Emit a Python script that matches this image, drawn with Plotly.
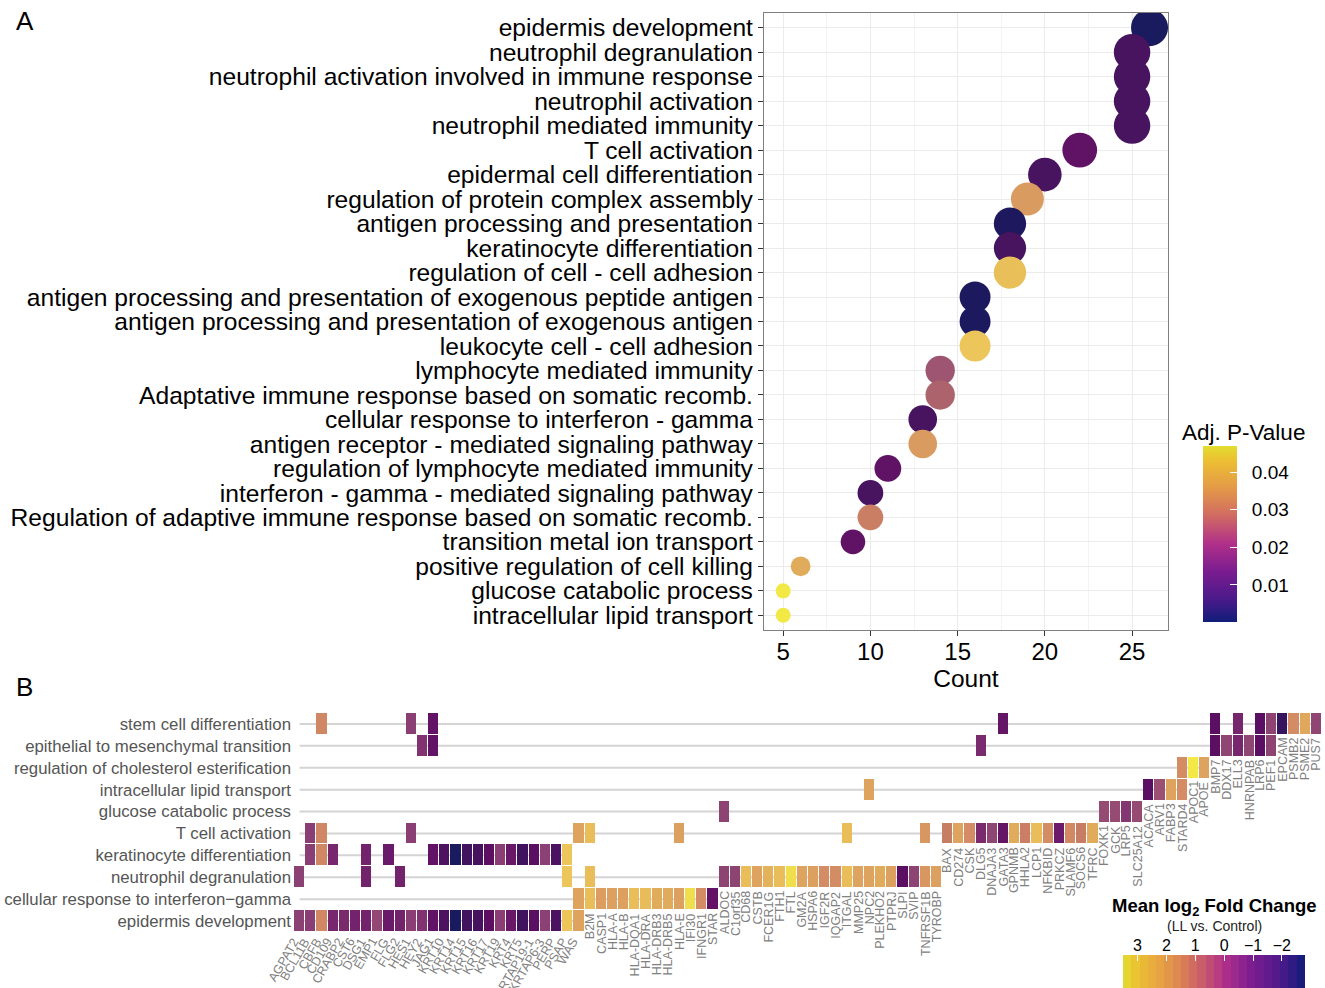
import numpy as np
import plotly.graph_objects as go

# ---------------- Panel A data ----------------
TERMS_A = [
    "epidermis development",
    "neutrophil degranulation",
    "neutrophil activation involved in immune response",
    "neutrophil activation",
    "neutrophil mediated immunity",
    "T cell activation",
    "epidermal cell differentiation",
    "regulation of protein complex assembly",
    "antigen processing and presentation",
    "keratinocyte differentiation",
    "regulation of cell - cell adhesion",
    "antigen processing and presentation of exogenous peptide antigen",
    "antigen processing and presentation of exogenous antigen",
    "leukocyte cell - cell adhesion",
    "lymphocyte mediated immunity",
    "Adaptative immune response based on somatic recomb.",
    "cellular response to interferon - gamma",
    "antigen receptor - mediated signaling pathway",
    "regulation of lymphocyte mediated immunity",
    "interferon - gamma - mediated signaling pathway",
    "Regulation of adaptive immune response based on somatic recomb.",
    "transition metal ion transport",
    "positive regulation of cell killing",
    "glucose catabolic process",
    "intracellular lipid transport",
]
COUNTS_A = [26, 25, 25, 25, 25, 22, 20, 19, 18, 18, 18, 16, 16, 16, 14, 14, 13, 13, 11, 10, 10, 9, 6, 5, 5]
PADJ_A = [0.0001, 0.009, 0.009, 0.009, 0.009, 0.0146, 0.009, 0.035, 0.001, 0.009, 0.042, 0.0008,
          0.0008, 0.0433, 0.024, 0.026, 0.009, 0.035, 0.0146, 0.009, 0.0305, 0.0146, 0.038, 0.047, 0.047]
PADJ_TICKS = [0.01, 0.02, 0.03, 0.04]
COUNT_TICKS = [5, 10, 15, 20, 25]

# ---------------- Panel B data ----------------
GENES = ["AGPAT2", "BCL11B", "CBFB", "CD109", "CRABP2", "CST6", "DSG1", "EMP1", "FLG", "FLG2",
         "HES1", "HEY2", "JAG1", "KRT10", "KRT14", "KRT15", "KRT16", "KRT17", "KRT19", "KRT4",
         "KRT5", "KRTAP19-1", "KRTAP6-3", "PERP", "PSAP", "WAS", "B2M", "CASP1", "HLA-A", "HLA-B",
         "HLA-DQA1", "HLA-DRA", "HLA-DRB3", "HLA-DRB5", "HLA-E", "IFI30", "IFNGR1", "STAR", "ALDOC", "C1orf35",
         "CD68", "CSTB", "FCER1G", "FTH1", "FTL", "GM2A", "HSPA6", "IGF2R", "IQGAP2", "ITGAL",
         "MMP25", "NPC2", "PLEKHO2", "PTPRJ", "SLPI", "SVIP", "TNFRSF1B", "TYROBP", "BAX", "CD274",
         "CSK", "DLG5", "DNAJA3", "GATA3", "GPNMB", "HHLA2", "LCP1", "NFKBID", "PRKCZ", "SLAMF6",
         "SOCS6", "TFRC", "FOXK1", "GCK", "LRP5", "SLC25A12", "ACACA", "ARV1", "FABP3", "STARD4",
         "APOC1", "APOE", "BMP7", "DDX17", "ELL3", "HNRNPAB", "LRP6", "PEF1", "EPCAM", "PSMB2",
         "PSME2", "PUS7"]
LOGFC = [0.0, -0.05, 1.5, -0.35, -0.3, -0.4, -0.4, 0.15, -0.6, -0.4,
         -0.05, -0.2, -0.8, -1.45, -2.8, -1.8, -1.65, -0.95, -0.05, -0.65,
         -1.85, -1.05, 0.0, -1.55, 3.0, 2.1, 2.8, 1.95, 2.0, 2.0,
         2.8, 2.75, 2.3, 2.3, 2.0, 3.35, 1.6, -0.8, 0.05, 0.05,
         2.8, 2.1, 2.5, 2.8, 3.35, 2.1, 2.0, 1.6, 1.6, 2.8,
         2.1, 2.1, 2.3, 2.0, -1.05, 0.05, 1.8, 2.0, 1.2, 2.1,
         1.6, -0.3, 0.1, -0.75, 2.3, 1.25, 2.8, 1.6, -0.55, 1.55,
         1.2, 2.3, 0.2, 0.2, -0.15, 0.2, -1.05, 0.3, 2.1, 1.6,
         3.5, 2.1, -1.05, 0.1, -0.35, 0.1, -1.05, 0.05, -2.1, 1.6,
         2.2, 0.1]

STEM_CELL = ["CBFB", "HES1", "JAG1", "GATA3", "BMP7", "ELL3", "LRP6", "PEF1", "EPCAM", "PSMB2", "PSME2", "PUS7"]
EMT = ["HEY2", "JAG1", "DLG5", "BMP7", "DDX17", "ELL3", "HNRNPAB", "LRP6", "PEF1"]
CHOL_ESTER = ["STARD4", "APOC1", "APOE"]
LIPID_TRANSPORT = ["NPC2", "ACACA", "ARV1", "FABP3", "STARD4"]
GLUCOSE = ["ALDOC", "FOXK1", "GCK", "LRP5", "SLC25A12"]
T_CELL = ["BCL11B", "CBFB", "HES1", "WAS", "B2M", "HLA-E", "ITGAL", "TNFRSF1B", "BAX", "CD274", "CSK",
          "DLG5", "DNAJA3", "GATA3", "GPNMB", "HHLA2", "LCP1", "NFKBID", "PRKCZ", "SLAMF6", "SOCS6", "TFRC"]
KERATINOCYTE = ["BCL11B", "CBFB", "CD109", "DSG1", "FLG", "JAG1", "KRT10", "KRT14", "KRT15", "KRT16",
                "KRT17", "KRT19", "KRT4", "KRT5", "KRTAP19-1", "KRTAP6-3", "PERP", "PSAP"]
NEUTROPHIL = ["AGPAT2", "DSG1", "FLG2", "PSAP", "B2M", "ALDOC", "C1orf35", "CD68", "CSTB", "FCER1G", "FTH1",
              "FTL", "GM2A", "HSPA6", "IGF2R", "IQGAP2", "ITGAL", "MMP25", "NPC2", "PLEKHO2", "PTPRJ",
              "SLPI", "SVIP", "TNFRSF1B", "TYROBP"]
IFN_GAMMA = ["WAS", "B2M", "CASP1", "HLA-A", "HLA-B", "HLA-DQA1", "HLA-DRA", "HLA-DRB3", "HLA-DRB5",
             "HLA-E", "IFI30", "IFNGR1", "STAR"]
EPIDERMIS = GENES[:26]

TERMS_B = ["stem cell differentiation", "epithelial to mesenchymal transition",
           "regulation of cholesterol esterification", "intracellular lipid transport",
           "glucose catabolic process", "T cell activation", "keratinocyte differentiation",
           "neutrophil degranulation", "cellular response to interferon\u2212gamma", "epidermis development"]
MEMBERS_B = [STEM_CELL, EMT, CHOL_ESTER, LIPID_TRANSPORT, GLUCOSE, T_CELL, KERATINOCYTE,
             NEUTROPHIL, IFN_GAMMA, EPIDERMIS]
FC_TICKS = [3, 2, 1, 0, -1, -2]
FC_TICKTEXT = ["3", "2", "1", "0", "\u22121", "\u22122"]

# ---------------- colour scales ----------------
MUTED = [(0.00, "#1a1a5e"), (0.05, "#241860"), (0.13, "#3c145e"), (0.21, "#4c1260"),
         (0.29, "#5c0e62"), (0.37, "#6e1e6a"), (0.44, "#8b4074"), (0.52, "#a05870"),
         (0.60, "#c07466"), (0.68, "#d08664"), (0.76, "#dca060"), (0.84, "#e4b25a"),
         (0.92, "#ecc65a"), (1.00, "#f2e846")]
SATURATED = [(0.00, "#0f1d78"), (0.127, "#4a1a8a"), (0.286, "#7a1c90"), (0.444, "#b0308a"),
             (0.603, "#d06a62"), (0.762, "#e49a48"), (0.921, "#ecc032"), (1.00, "#e2de30")]

FONT = "Liberation Sans, Arial, Helvetica, sans-serif"
W, H = 1325, 988


def px(xp):
    return xp / W


def py(yp):
    return 1 - yp / H


fig = go.Figure()

# ---------------- Panel A ----------------
cmin_a, cmax_a = min(PADJ_A), max(PADJ_A)
cmin_c, cmax_c = min(COUNTS_A), max(COUNTS_A)
sizes = [15 + 22 * np.sqrt((c - cmin_c) / (cmax_c - cmin_c)) for c in COUNTS_A]

fig.add_trace(go.Scatter(
    x=COUNTS_A, y=TERMS_A, mode="markers", xaxis="x", yaxis="y",
    marker=dict(size=sizes, sizemode="diameter", color=PADJ_A, colorscale=MUTED,
                cmin=cmin_a, cmax=cmax_a, line=dict(width=0), opacity=1, showscale=False),
    showlegend=False, hoverinfo="x+y",
))
# colour key for panel A
fig.add_trace(go.Scatter(
    x=COUNTS_A, y=TERMS_A, mode="markers", xaxis="x", yaxis="y",
    marker=dict(size=1, color=PADJ_A, colorscale=SATURATED, cmin=cmin_a, cmax=cmax_a, opacity=0,
                showscale=True,
                colorbar=dict(x=px(1203), xanchor="left", xpad=0, ypad=0,
                              y=py(534), yanchor="middle", len=176 / H, lenmode="fraction",
                              thickness=34, outlinewidth=0, tickvals=PADJ_TICKS,
                              ticktext=["\u00a0\u00a0" + f"{v:.2f}" for v in PADJ_TICKS],
                              ticks="inside", ticklen=7, tickcolor="white", tickwidth=1.2,
                              tickfont=dict(size=19, color="black", family=FONT))),
    showlegend=False, hoverinfo="skip",
))

# ---------------- Panel B ----------------
gene_idx = {g: i for i, g in enumerate(GENES)}
fc = dict(zip(GENES, LOGFC))
z = [[fc[g] if g in members else None for g in GENES] for members in MEMBERS_B]
zmin_b, zmax_b = min(LOGFC), max(LOGFC)

shapes = []
for r, members in enumerate(MEMBERS_B):
    last = max(gene_idx[g] for g in members)
    shapes.append(dict(type="line", xref="x2", yref="y2", x0=0, x1=last, y0=r, y1=r,
                       line=dict(color="#d4d4d4", width=2), layer="below"))

fig.add_trace(go.Heatmap(
    z=z, x=list(range(len(GENES))), y=list(range(len(TERMS_B))), xaxis="x2", yaxis="y2",
    colorscale=MUTED, zmin=zmin_b, zmax=zmax_b, showscale=False, xgap=1, ygap=1,
    hoverongaps=False,
))

# legend gradient for panel B
edges = np.linspace(zmin_b, zmax_b, 23)
mids = (edges[:-1] + edges[1:]) / 2
fig.add_trace(go.Heatmap(
    z=[list(mids)], x=list(edges), y=[-0.5, 0.5], xaxis="x3", yaxis="y3",
    colorscale=SATURATED, zmin=zmin_b, zmax=zmax_b, showscale=False, hoverinfo="skip",
))

annotations = []
# gene labels under the lowest cell of each column
for g in GENES:
    low = max(r for r, m in enumerate(MEMBERS_B) if g in m)
    i = gene_idx[g]
    if low == len(TERMS_B) - 1:
        annotations.append(dict(x=i, y=low + 0.5, xref="x2", yref="y2", text=g, showarrow=False,
                                textangle=-60, xanchor="right", yanchor="top", xshift=5, yshift=-1,
                                font=dict(size=12.5, color="#808080", family=FONT)))
    else:
        annotations.append(dict(x=i, y=low + 0.5, xref="x2", yref="y2", text=g, showarrow=False,
                                textangle=-90, xanchor="center", yanchor="top", yshift=-1,
                                font=dict(size=12.5, color="#808080", family=FONT)))

annotations += [
    dict(x=px(14), y=py(21), xref="paper", yref="paper", text="A", showarrow=False,
         xanchor="left", yanchor="middle", font=dict(size=26, color="black", family=FONT)),
    dict(x=px(14), y=py(687), xref="paper", yref="paper", text="B", showarrow=False,
         xanchor="left", yanchor="middle", font=dict(size=26, color="black", family=FONT)),
    dict(x=px(1180), y=py(432), xref="paper", yref="paper", text="Adj. P-Value", showarrow=False,
         xanchor="left", yanchor="middle", font=dict(size=22.5, color="black", family=FONT)),
    dict(x=px(1214), y=py(907), xref="paper", yref="paper",
         text="<b>Mean log<sub>2</sub> Fold Change</b>", showarrow=False,
         xanchor="center", yanchor="middle", font=dict(size=18.5, color="black", family=FONT)),
    dict(x=px(1214), y=py(926), xref="paper", yref="paper", text="(LL vs. Control)", showarrow=False,
         xanchor="center", yanchor="middle", font=dict(size=14, color="#222222", family=FONT)),
]

fig.update_layout(
    width=W, height=H, autosize=False,
    margin=dict(l=0, r=0, t=0, b=0, pad=0),
    paper_bgcolor="white", plot_bgcolor="white",
    font=dict(family=FONT, color="black"),
    showlegend=False,
    xaxis=dict(domain=[px(764), px(1168)], range=[3.9, 27.06], anchor="y",
               tickvals=COUNT_TICKS, tickfont=dict(size=24, color="black"),
               ticks="outside", ticklen=5, tickcolor="#333333", ticklabelstandoff=-5,
               showgrid=True, gridcolor="#ebebeb", gridwidth=1.3,
               minor=dict(dtick=2.5, tick0=0, showgrid=True, gridcolor="#f3f3f3", gridwidth=0.7),
               showline=True, mirror=True, linecolor="#7f7f7f", linewidth=1.3, zeroline=False,
               title=dict(text="Count", font=dict(size=24.5, color="black"), standoff=0)),
    yaxis=dict(domain=[py(630), py(13)], anchor="x", type="category",
               categoryorder="array", categoryarray=TERMS_A, range=[len(TERMS_A) - 0.4, -0.6],
               tickmode="array", tickvals=TERMS_A, ticktext=TERMS_A,
               tickfont=dict(size=24.6, color="black"),
               ticks="outside", ticklen=5, tickcolor="#333333",
               showgrid=True, gridcolor="#ebebeb", gridwidth=1.3,
               showline=True, mirror=True, linecolor="#7f7f7f", linewidth=1.3, zeroline=False),
    xaxis2=dict(domain=[px(294), px(1322)], range=[-0.5, len(GENES) - 0.5], anchor="y2",
                showticklabels=False, showgrid=False, zeroline=False, showline=False, ticks=""),
    yaxis2=dict(domain=[py(932), py(713)], anchor="x2", range=[len(TERMS_B) - 0.5, -0.5],
                tickvals=list(range(len(TERMS_B))), ticktext=TERMS_B,
                tickfont=dict(size=16.8, color="#555555"), ticks="", ticklabelstandoff=2,
                showgrid=False, zeroline=False, showline=False),
    xaxis3=dict(domain=[px(1123), px(1305)], range=[zmax_b, zmin_b], anchor="y3", side="top",
                tickvals=FC_TICKS, ticktext=FC_TICKTEXT, tickfont=dict(size=16, color="black"),
                ticks="inside", ticklen=6, tickcolor="white", tickwidth=1.2,
                showgrid=False, zeroline=False, showline=False),
    yaxis3=dict(domain=[0, py(955)], anchor="x3", range=[-0.5, 0.5], visible=False),
    shapes=shapes,
    annotations=annotations,
)

fig.write_html("out.html", config={"displayModeBar": False},
               post_script="document.body.style.margin='0px';")
